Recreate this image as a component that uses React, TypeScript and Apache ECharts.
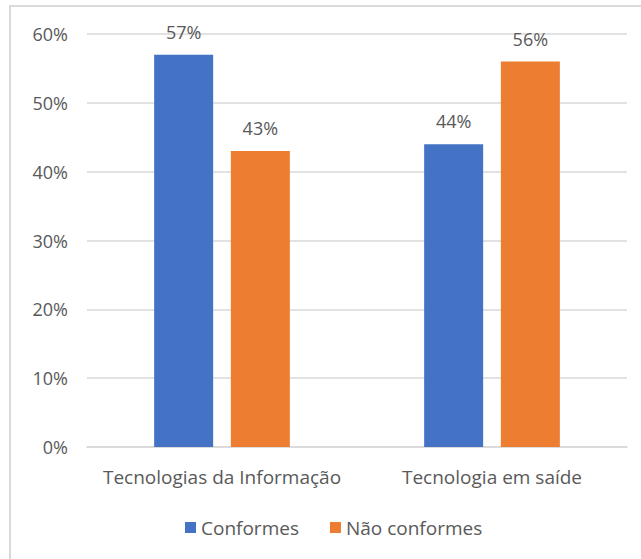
import React, { useEffect, useRef } from "react";
import * as echarts from "echarts";

const categories = ["Tecnologias da Informação", "Tecnologia em saíde"];
const conformes = [57, 44];
const naoConformes = [43, 56];
const seriesNames = ["Conformes", "Não conformes"];

export default function App() {
  const ref = useRef<HTMLDivElement>(null);
  useEffect(() => {
    const chart = echarts.init(ref.current!, undefined, { renderer: "svg" });
    const font = "'Open Sans', 'Noto Sans', sans-serif";
    const fs = 19;
    const labelCfg = {
      show: true,
      position: "top",
      distance: 14,
      formatter: "{c}%",
      color: "#595959",
      fontSize: 18,
      fontFamily: font,
    };
    chart.setOption({
      animation: false,
      backgroundColor: "#ffffff",
      graphic: [
        {
          type: "rect",
          shape: { x: 10, y: 6, width: 700, height: 700 },
          style: { fill: "none", stroke: "#d9d9d9", lineWidth: 2 },
          silent: true,
        },
      ],
      grid: { left: 87, right: 14, top: 34, bottom: 112, containLabel: false },
      legend: {
        bottom: 17,
        left: 180,
        itemWidth: 11,
        itemHeight: 11,
        itemGap: 31,
        icon: "rect",
        textStyle: { color: "#595959", fontSize: fs, fontFamily: font },
        data: seriesNames,
      },
      xAxis: {
        type: "category",
        data: categories,
        axisLine: { lineStyle: { color: "#d9d9d9", width: 1.5 } },
        axisTick: { show: false },
        axisLabel: {
          interval: 0,
          hideOverlap: false,
          color: "#595959",
          fontSize: fs,
          fontFamily: font,
          margin: 20,
        },
      },
      yAxis: {
        type: "value",
        min: 0,
        max: 60,
        interval: 10,
        axisLabel: { formatter: "{value}%", color: "#595959", fontSize: 18, fontFamily: font, margin: 19 },
        splitLine: { lineStyle: { color: "#d9d9d9", width: 1.5 } },
        axisLine: { show: false },
        axisTick: { show: false },
      },
      series: [
        {
          name: seriesNames[0],
          type: "bar",
          data: conformes,
          itemStyle: { color: "#4472C4" },
          barWidth: 59,
          barGap: "30%",
          label: labelCfg,
        },
        {
          name: seriesNames[1],
          type: "bar",
          data: naoConformes,
          itemStyle: { color: "#ED7D31" },
          barWidth: 59,
          barGap: "30%",
          label: labelCfg,
        },
      ],
    });
    return () => chart.dispose();
  }, []);
  return (
    <div
      ref={ref}
      style={{ position: "fixed", left: 0, top: 0, width: 641, height: 559, background: "#fff" }}
    />
  );
}
